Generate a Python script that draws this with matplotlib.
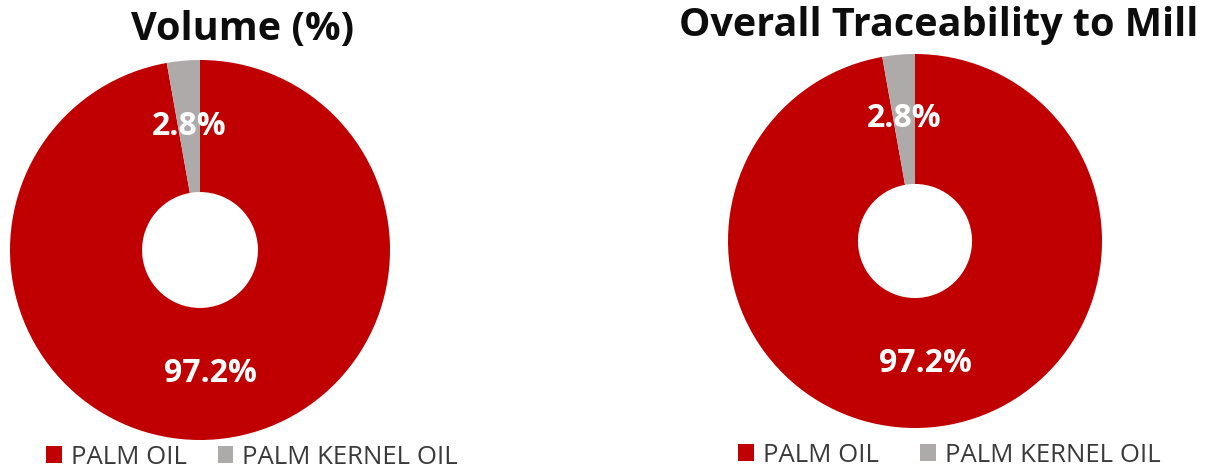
import matplotlib
matplotlib.use("Agg")
import matplotlib.pyplot as plt

categories = ["PALM OIL", "PALM KERNEL OIL"]
volume_pct = [97.2, 2.8]
traceability_pct = [97.2, 2.8]
titles = ["Volume (%)", "Overall Traceability to Mill"]
colors = ["#C00000", "#AEAAAA"]

plt.rcParams['font.family'] = ['Open Sans', 'DejaVu Sans']

W, H = 1210, 470
fig = plt.figure(figsize=(W / 100, H / 100), dpi=100)

def add_donut(cx, cy, r, values, title, title_xy, legend_xy, colspace):
    ax = fig.add_axes([(cx - r) / W, (H - cy - r) / H, 2 * r / W, 2 * r / H])
    wedges, texts, autotexts = ax.pie(
        values, colors=colors, startangle=90, counterclock=False,
        radius=1.0, wedgeprops=dict(width=0.695, linewidth=0),
        autopct='%.1f%%', pctdistance=0.655,
        textprops=dict(color='white', fontsize=23, fontweight='bold'))
    ax.set_xlim(-1, 1)
    ax.set_ylim(-1, 1)
    ax.set_aspect('equal')
    ax.axis('off')
    fig.text(title_xy[0] / W, 1 - title_xy[1] / H, title, ha='center', va='baseline',
             fontsize=28.5, fontweight='bold', color='#0D0D0D')
    fig.legend(wedges, categories, loc='center', ncol=2,
               bbox_to_anchor=(legend_xy[0] / W, 1 - legend_xy[1] / H),
               frameon=False, fontsize=18.5, labelcolor='#3A3A3A',
               handlelength=0.62, handleheight=0.6, handletextpad=0.35,
               columnspacing=colspace, borderpad=0)

add_donut(200, 250, 190, volume_pct, titles[0], (243, 40), (252, 457), 1.2)
add_donut(915, 241, 187, traceability_pct, titles[1], (939, 36), (949, 455), 1.6)

fig.savefig("out.png", dpi=100)
